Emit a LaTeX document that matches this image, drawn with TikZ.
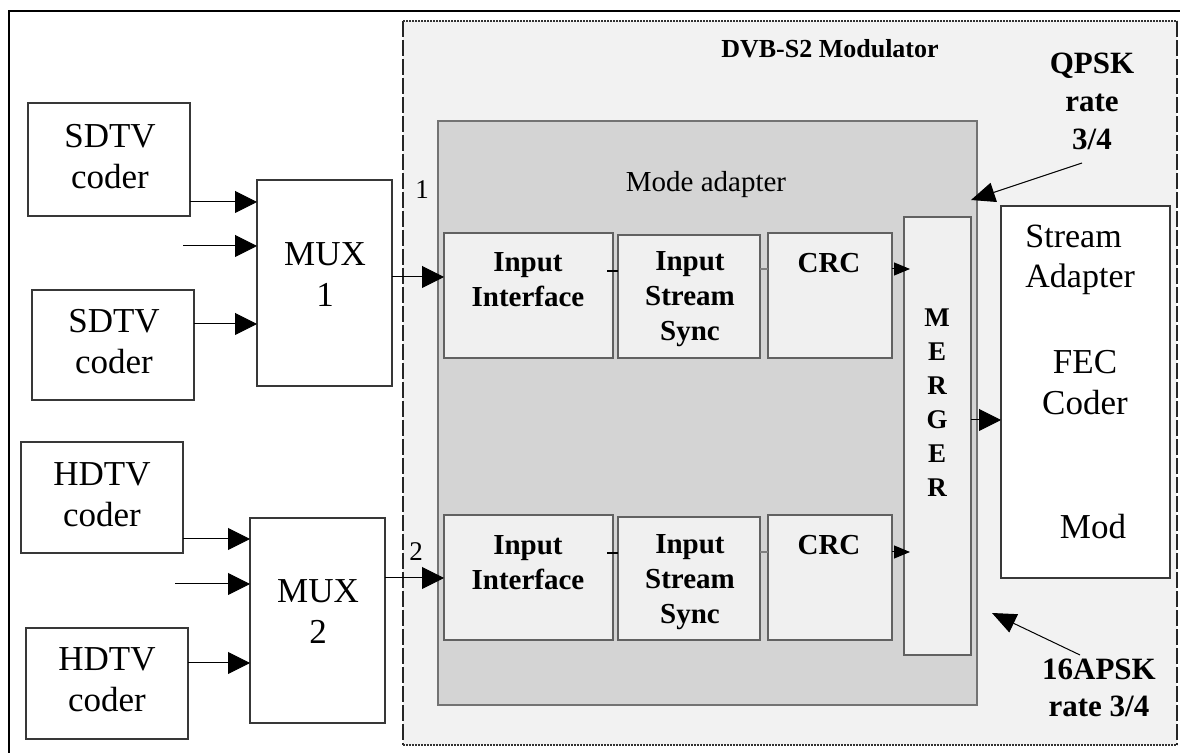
\documentclass[tikz,border=0pt]{standalone}
\usepackage{fontspec}
\setmainfont{Liberation Serif}
\usetikzlibrary{arrows.meta,fit}
% a rectangle node spanning two corner points
\newcommand\mkbox[6]{\node[#6, fit={(#2,#3) (#4,#5)}] (#1) {};}
\begin{document}
\begin{tikzpicture}[x=0.5pt,y=-0.5pt,
  blk/.style={draw=black!78, line width=0.8pt, inner sep=0pt, outer sep=0pt},
  srcbox/.style={blk, fill=white},
  inbox/.style={blk, draw=black!62, fill=black!6},
  adbox/.style={blk, draw=black!55, fill=black!17},
  lbl/.style={inner sep=0pt, align=center, font=\fontsize{17.5}{20.5}\selectfont},
  blbl/.style={inner sep=0pt, align=center, font=\fontsize{14.5}{17.5}\selectfont\bfseries},
  arr/.style={line width=0.5pt, -{Triangle[length=11pt,width=11pt]}},
  sarr/.style={line width=0.5pt, -{Triangle[length=8pt,width=6.5pt]}},
  rarr/.style={line width=0.5pt, -{Triangle[length=12pt,width=10pt]}},
  vdash/.style={draw=black!85, line width=0.6pt, dash pattern=on 8pt off 1.5pt},
  hdot/.style={draw=black!80, line width=0.6pt, dash pattern=on 0.9pt off 0.6pt},
]
\useasboundingbox (0,0) rectangle (1180,753);
\fill[white] (0,0) rectangle (1180,753);
% outer frame
\draw[line width=1pt] (9,753) -- (9,11) -- (1180,11);

% modulator area
\mkbox{mod}{403}{21}{1177}{745}{fill=black!5, inner sep=0pt, outer sep=0pt}
\draw[vdash] (mod.north west) -- (mod.south west);
\draw[vdash] (mod.north east) -- (mod.south east);
\draw[hdot] (mod.north west) -- (mod.north east);
\draw[hdot] (mod.south west) -- (mod.south east);
\node[inner sep=0pt, font=\fontsize{13}{15}\selectfont\bfseries] (modt) at (830,49) {DVB-S2 Modulator};

% sources
\mkbox{sd1}{28}{103}{190}{216}{srcbox}
\mkbox{sd2}{32}{290}{194}{400}{srcbox}
\mkbox{hd1}{21}{442}{183}{553}{srcbox}
\mkbox{hd2}{26}{628}{188}{739}{srcbox}
\node[lbl] (sd1t) at (110,157) {SDTV\\coder};
\node[lbl] (sd2t) at (114,342) {SDTV\\coder};
\node[lbl] (hd1t) at (102,495) {HDTV\\coder};
\node[lbl] (hd2t) at (107,680) {HDTV\\coder};

% multiplexers
\mkbox{mux1}{257}{180}{392}{386}{srcbox}
\mkbox{mux2}{250}{518}{385}{723}{srcbox}
\node[lbl] (mux1t) at (325,275) {MUX\\1};
\node[lbl] (mux2t) at (318,612) {MUX\\2};

% mode adapter
\mkbox{ma}{438}{121}{977}{705}{adbox}
\node[inner sep=0pt, font=\fontsize{14.5}{17}\selectfont] (mat) at (706,185) {Mode adapter};

\mkbox{ii1}{444}{233}{613}{358}{inbox}
\mkbox{iss1}{618}{235}{760}{358}{inbox}
\mkbox{crc1}{768}{233}{892}{358}{inbox}
\mkbox{ii2}{444}{515}{613}{640}{inbox}
\mkbox{iss2}{618}{517}{760}{640}{inbox}
\mkbox{crc2}{768}{515}{892}{640}{inbox}
\node[blbl] (ii1t) at (528,280) {Input\\Interface};
\node[blbl] (iss1t) at (690,299) {Input\\Stream\\Sync};
\node[blbl] (crc1t) at (829,263) {CRC};
\node[blbl] (ii2t) at (528,563) {Input\\Interface};
\node[blbl] (iss2t) at (690,582) {Input\\Stream\\Sync};
\node[blbl] (crc2t) at (829,545) {CRC};

\mkbox{mg}{904}{217}{971}{655}{inbox}
\node[inner sep=0pt, align=center, font=\fontsize{13.5}{17}\selectfont\bfseries] (mgt) at (937,403) {M\\E\\R\\G\\E\\R};

% stream adapter / FEC / modulation
\mkbox{sa}{1001}{206}{1170}{578}{srcbox}
\node[inner sep=0pt, align=left, anchor=west, font=\fontsize{17}{20}\selectfont] (sat) at (1025,260) {Stream\\Adapter};
\node[lbl] (fect) at (1085,383) {FEC\\Coder};
\node[lbl] (modt2) at (1093,527) {Mod};

% stream labels
\node[inner sep=0pt, font=\fontsize{13.5}{16}\selectfont] (n1) at (422,190) {1};
\node[inner sep=0pt, font=\fontsize{13.5}{16}\selectfont] (n2) at (416,552) {2};

% modulation labels
\node[inner sep=0pt, align=center, font=\fontsize{15.5}{19}\selectfont\bfseries] (qpsk) at (1092,101) {QPSK\\rate\\3/4};
\node[inner sep=0pt, align=center, font=\fontsize{15.5}{18.5}\selectfont\bfseries] (apsk) at (1099,688) {16APSK\\rate 3/4};

% input arrows to the multiplexers
\coordinate (ya) at (0,202);
\coordinate (fa) at (183,246);
\coordinate (yb) at (0,324);
\draw[arr] (sd1.east |- ya) -- (mux1.west |- ya);
\draw[arr] (fa) -- (mux1.west |- fa);
\draw[arr] (sd2.east |- yb) -- (mux1.west |- yb);
\coordinate (yc) at (0,539);
\coordinate (fb) at (175,584);
\coordinate (yd) at (0,663);
\draw[arr] (hd1.east |- yc) -- (mux2.west |- yc);
\draw[arr] (fb) -- (mux2.west |- fb);
\draw[arr] (hd2.east |- yd) -- (mux2.west |- yd);

% multiplexer outputs
\coordinate (ye) at (0,277);
\coordinate (yf) at (0,578);
\draw[arr] (mux1.east |- ye) -- (ii1.west |- ye);
\draw[arr] (mux2.east |- yf) -- (ii2.west |- yf);

% short links inside the mode adapter
\coordinate (yg) at (0,271);
\coordinate (yh) at (0,269);
\coordinate (yi) at (0,553);
\coordinate (yj) at (0,552);
\draw[line width=0.6pt] ([xshift=-3pt]ii1.east |- yg) -- (iss1.west |- yg);
\draw[line width=0.6pt, black!50] (iss1.east |- yh) -- (crc1.west |- yh);
\draw[line width=0.6pt] ([xshift=-3pt]ii2.east |- yi) -- (iss2.west |- yi);
\draw[line width=0.6pt, black!50] (iss2.east |- yj) -- (crc2.west |- yj);
\draw[sarr] (crc1.east |- yh) -- ([xshift=3pt]mg.west |- yh);
\draw[sarr] (crc2.east |- yj) -- ([xshift=3pt]mg.west |- yj);

% merger output
\coordinate (yk) at (0,420);
\draw[arr] (mg.east |- yk) -- (sa.west |- yk);

% pointers from the modulation labels
\coordinate (qs) at (1082,163);
\coordinate (qt) at (971,200);
\coordinate (as) at (1080,655);
\coordinate (at) at (992,613);
\draw[rarr] (qs) -- (qt);
\draw[rarr] (as) -- (at);
\end{tikzpicture}
\end{document}
